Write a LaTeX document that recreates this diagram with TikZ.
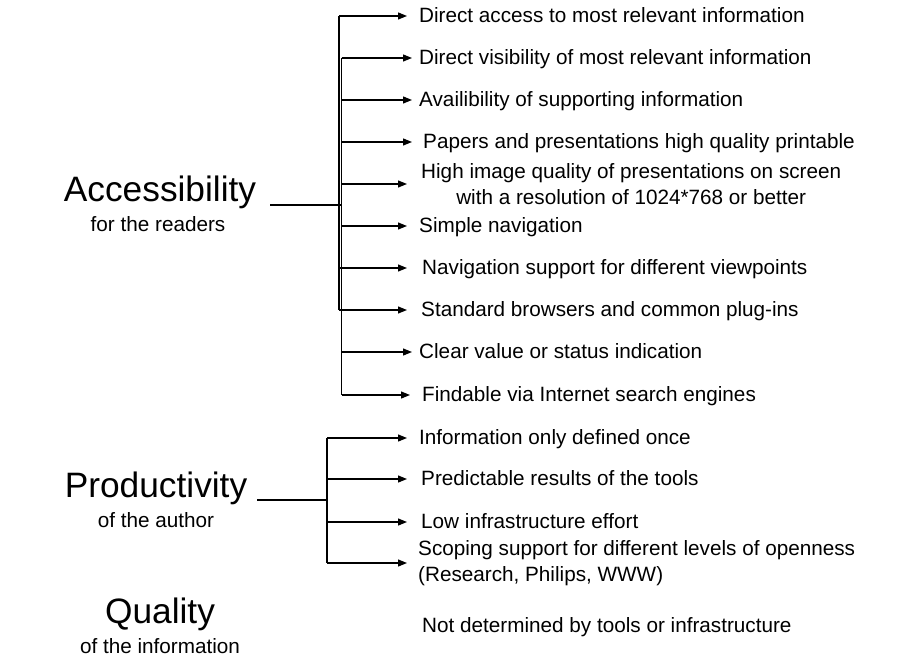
\documentclass[tikz,border=0pt]{standalone}
\usepackage{fontspec}
\setmainfont{Liberation Sans}
\usetikzlibrary{arrows.meta}
\begin{document}
\begin{tikzpicture}[x=1pt,y=-1pt,
  line/.style={line width=1.2pt},
  arr/.style={line width=1.2pt,-{Triangle[length=9pt,width=7pt]}},
  item/.style={anchor=west,inner ysep=0pt,text height=16pt,text depth=3pt,font=\fontsize{20.7}{25.5}\selectfont},
  itemtwo/.style={anchor=west,inner ysep=0pt,font=\fontsize{20.7}{25.5}\selectfont},
  title/.style={anchor=base,inner sep=0pt,font=\fontsize{35.3}{40}\selectfont},
  sub/.style={anchor=base,inner sep=0pt,font=\fontsize{20.7}{25}\selectfont}]
\useasboundingbox (0,0) rectangle (920,660);

% left labels
\node[title] (acc) at (160,202) {Accessibility};
\node[sub] (accs) at (158,232) {for the readers};
\node[title] (prod) at (156,497) {Productivity};
\node[sub] (prods) at (156,527) {of the author};
\node[title] (qual) at (160,623) {Quality};
\node[sub] (quals) at (160,653) {of the information};

% bus coordinates
\coordinate (busAtop) at (339,16);
\coordinate (busAbot) at (339,310);
\coordinate (busBtop) at (341.5,58);
\coordinate (busBbot) at (341.5,395);
\coordinate (busPtop) at (327,438);
\coordinate (busPbot) at (327,563);
\coordinate (accL) at (270,205);
\coordinate (prodL) at (257,500);

% accessibility items
\node[item,inner xsep=12pt] (a1) at (407,16) {Direct access to most relevant information};
\node[item,inner xsep=7pt] (a2) at (412,58) {Direct visibility of most relevant information};
\node[item,inner xsep=7pt] (a3) at (412,100) {Availibility of supporting information};
\node[item,inner xsep=11pt] (a4) at (412,142) {Papers and presentations high quality printable};
\node[itemtwo,align=center,inner xsep=14pt] (a5) at (407,184) {High image quality of presentations on screen\\with a resolution of 1024*768 or better};
\node[item,inner xsep=12pt] (a6) at (407,226) {Simple navigation};
\node[item,inner xsep=15pt] (a7) at (407,268) {Navigation support for different viewpoints};
\node[item,inner xsep=14pt] (a8) at (407,310) {Standard browsers and common plug-ins};
\node[item,inner xsep=7pt] (a9) at (412,352) {Clear value or status indication};
\node[item,inner xsep=12pt] (a10) at (410,395) {Findable via Internet search engines};

% productivity items
\node[item,inner xsep=12pt] (p1) at (407,438) {Information only defined once};
\node[item,inner xsep=14pt] (p2) at (407,479) {Predictable results of the tools};
\node[item,inner xsep=14pt] (p3) at (407,522) {Low infrastructure effort};
\node[itemtwo,align=left,inner xsep=11pt] (p4) at (407,563) {Scoping support for different levels of openness\\(Research, Philips, WWW)};

% quality item
\node[item,inner xsep=0pt] (q1) at (422,626) {Not determined by tools or infrastructure};

% buses
\draw[line] (busAtop) -- (busAbot);
\draw[line] (busBtop) -- (busBbot);
\draw[line] (busPtop) -- (busPbot);
\draw[line] (accL) -- (accL -| busBtop);
\draw[line] (prodL) -- (prodL -| busPtop);

% arrows
\foreach \n in {a1,a7,a8}{\draw[arr] (\n -| busAtop) -- (\n.west);}
\foreach \n in {a2,a3,a4,a5,a6,a9,a10}{\draw[arr] (\n -| busBtop) -- (\n.west);}
\foreach \n in {p1,p2,p3,p4}{\draw[arr] (\n -| busPtop) -- (\n.west);}
\end{tikzpicture}
\end{document}
